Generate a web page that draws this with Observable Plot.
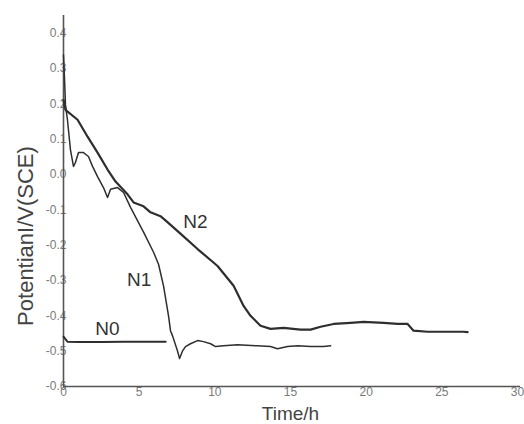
<!DOCTYPE html>
<html>
<head>
<meta charset="utf-8">
<script src="https://cdn.jsdelivr.net/npm/d3@7"></script>
<script src="https://cdn.jsdelivr.net/npm/@observablehq/plot@0.6"></script>
<style>
  html, body { margin: 0; padding: 0; background: #fff; }
  #chart svg { display: block; }
</style>
</head>
<body>
<div id="chart"></div>
<script>
// ---- data ----
const n0Time = [0, 0.26, 1.0, 2.5, 4.0, 5.5, 6.75];
const n0Potential = [-0.459, -0.473, -0.474, -0.474, -0.473, -0.473, -0.473];

const n1Time = [0, 0.07, 0.13, 0.26, 0.46, 0.66, 0.79, 0.99, 1.32, 1.65, 1.92, 2.25, 2.64, 2.91, 3.11, 3.57, 3.97, 4.43, 5.29, 5.95, 6.28, 6.61, 6.94, 7.07, 7.20, 7.53, 7.67, 7.87, 8.06, 8.39, 8.86, 9.25, 9.72, 10.05, 10.57, 11.50, 12.82, 13.68, 14.14, 14.81, 15.47, 16.33, 17.18, 17.65];
const n1Potential = [0.338, 0.268, 0.197, 0.155, 0.070, 0.023, 0.034, 0.062, 0.062, 0.051, 0.023, -0.006, -0.037, -0.065, -0.042, -0.037, -0.051, -0.093, -0.163, -0.220, -0.254, -0.315, -0.400, -0.442, -0.456, -0.499, -0.521, -0.499, -0.487, -0.479, -0.470, -0.473, -0.479, -0.487, -0.485, -0.482, -0.485, -0.487, -0.493, -0.487, -0.485, -0.487, -0.487, -0.485];

const n2Time = [0, 0.13, 0.93, 1.59, 2.25, 2.91, 3.44, 4.23, 4.63, 5.29, 5.75, 6.41, 6.87, 7.93, 8.86, 10.18, 11.24, 11.90, 12.36, 13.02, 13.68, 14.54, 15.66, 16.33, 16.99, 17.85, 18.97, 19.83, 21.15, 22.08, 22.74, 23.13, 24.06, 25.12, 26.44, 26.70];
const n2Potential = [0.21, 0.183, 0.155, 0.107, 0.062, 0.014, -0.020, -0.056, -0.079, -0.090, -0.107, -0.118, -0.135, -0.175, -0.211, -0.259, -0.315, -0.372, -0.400, -0.428, -0.437, -0.434, -0.439, -0.439, -0.431, -0.423, -0.420, -0.417, -0.420, -0.423, -0.423, -0.442, -0.445, -0.445, -0.445, -0.446];

const seriesNames = ["N0", "N1", "N2"];
const labelTime = [2.9, 5.0, 8.72];
const labelPotential = [-0.437, -0.299, -0.135];

const xTicks = [0, 5, 10, 15, 20, 25, 30];
const xTickLabels = ["0", "5", "10", "15", "20", "25", "30"];
const yTicks = [-0.6, -0.5, -0.4, -0.3, -0.2, -0.1, 0.0, 0.1, 0.2, 0.3, 0.4];
const yTickLabels = ["-0.6", "-0.5", "-0.4", "-0.3", "-0.2", "-0.1", "0.0", "0.1", "0.2", "0.3", "0.4"];

const xTitle = "Time/h";
const yTitle = "PotentianI/V(SCE)";

// ---- build tables ----
const toRows = (ts, vs) => ts.map((t, i) => ({t, v: vs[i]}));
const n0 = toRows(n0Time, n0Potential);
const n1 = toRows(n1Time, n1Potential);
const n2 = toRows(n2Time, n2Potential);
const labels = seriesNames.map((name, i) => ({name, t: labelTime[i], v: labelPotential[i]}));

const font = "'Liberation Sans', Arial, Helvetica, sans-serif";
const lineColor = "#2e2e2e";

const chart = Plot.plot({
  width: 524,
  height: 424,
  marginLeft: 63,
  marginRight: 7,
  marginTop: 15,
  marginBottom: 38,
  style: {fontFamily: font, background: "#fff"},
  x: {domain: [0, 30]},
  y: {domain: [-0.6, 0.45]},
  marks: [
    Plot.axisX({ticks: xTicks, tickFormat: (d) => xTickLabels[xTicks.indexOf(d)], tickSize: 0, tickPadding: 1, fontSize: 12, color: "#7a7a7a", label: null}),
    Plot.axisY({ticks: yTicks, tickFormat: (d) => yTickLabels[yTicks.findIndex(y => Math.abs(y - d) < 1e-9)], tickSize: 0, tickPadding: -3, fontSize: 12, color: "#7a7a7a", label: null}),
    Plot.ruleX([0], {stroke: "#555", strokeWidth: 1.6}),
    Plot.ruleY([-0.6], {stroke: "#555", strokeWidth: 1.6, x1: 0, x2: 30.2}),
    Plot.line(n0, {x: "t", y: "v", stroke: lineColor, strokeWidth: 2}),
    Plot.line(n1, {x: "t", y: "v", stroke: lineColor, strokeWidth: 1.5, curve: "linear"}),
    Plot.line(n2, {x: "t", y: "v", stroke: lineColor, strokeWidth: 2.2, curve: "linear"}),
    Plot.text(labels, {x: "t", y: "v", text: "name", fontSize: 19, fill: "#333"}),
    Plot.text([yTitle], {frameAnchor: "left", rotate: -90, dx: -38, dy: 35, textAnchor: "middle", lineAnchor: "middle", fontSize: 22, fill: "#444"}),
    Plot.text([xTitle], {frameAnchor: "bottom", dy: 27, textAnchor: "middle", lineAnchor: "middle", fontSize: 19, fill: "#444"})
  ]
});
document.getElementById("chart").appendChild(chart);
</script>
</body>
</html>
